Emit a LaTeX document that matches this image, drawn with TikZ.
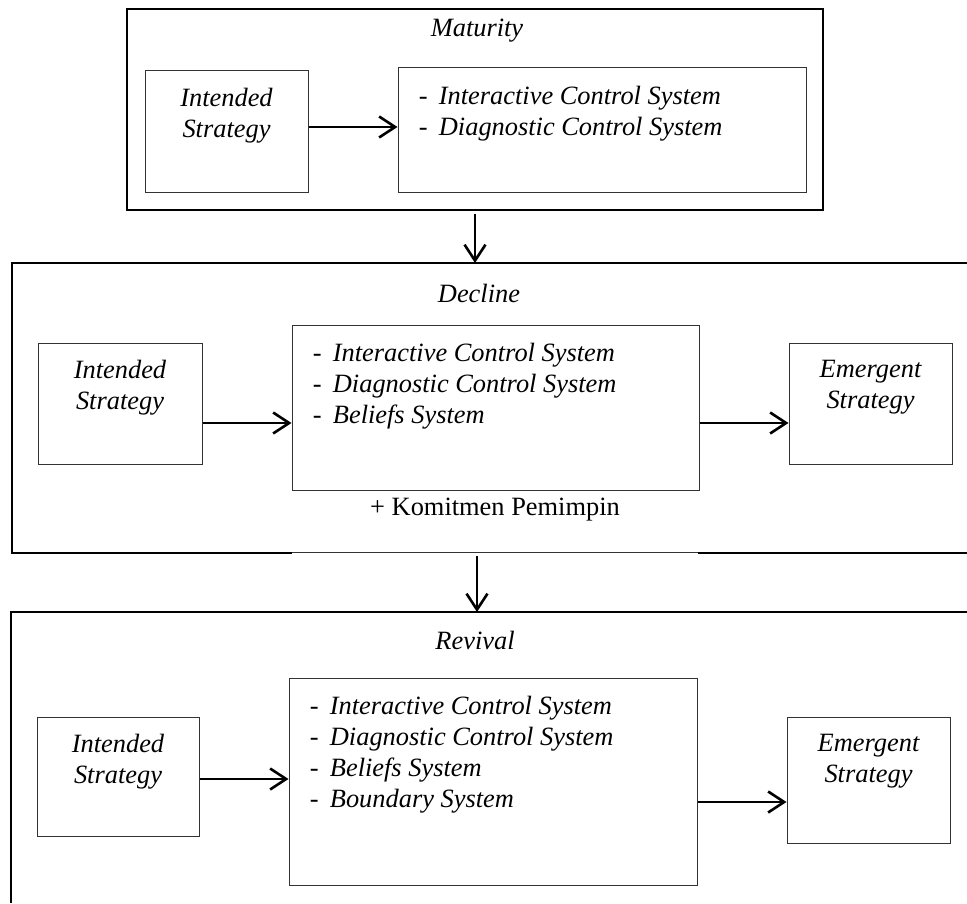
\documentclass[tikz,border=0pt]{standalone}
\usepackage{fontspec}
\setmainfont{Liberation Serif}
\usetikzlibrary{arrows.meta,positioning}
\tikzset{
  frame/.style={draw, line width=1pt},
  box/.style={draw=black!80, line width=0.5pt, inner sep=0pt},
  arr/.style={-{Straight Barb[length=8pt,width=10.5pt]}, line width=1.3pt},
  hd/.style={font=\fontsize{13.2}{15.5}\selectfont\itshape, inner sep=0pt},
  txt/.style={font=\fontsize{13.2}{15.5}\selectfont, inner sep=0pt},
  ctr/.style={anchor=north, align=center, inner sep=0pt, yshift=-8.5pt, font=\fontsize{13.2}{15.5}\selectfont\itshape},
  lst/.style={anchor=north west, align=left, inner sep=0pt, xshift=10.5pt, yshift=-9pt, font=\fontsize{13.2}{15.5}\selectfont}
}
\newcommand{\itm}[1]{\makebox[10pt][l]{-}\textit{#1}}

\begin{document}
\begin{tikzpicture}[x=0.5pt,y=-0.5pt]
  \useasboundingbox (0,0) rectangle (967,903);
  % Maturity
  \node[frame, minimum width=348pt, minimum height=100.5pt, inner sep=0pt] (mat) at (475,109.5) {};
  \node[hd] (matT) at (477,31) {Maturity};
  \node[box, minimum width=81.5pt, minimum height=61pt, label={[ctr]north:{Intended\\Strategy}}] (is1) at (226.5,132) {};
  \node[box, minimum width=204pt, minimum height=62.5pt, label={[lst]north west:{\itm{Interactive Control System}\\\itm{Diagnostic Control System}}}] (ctl1) at (602,130.5) {};
  \draw[arr] (is1.east |- 0,127) -- (ctl1.west |- 0,127);
  % Decline
  \draw[frame] (967,263) -- (12,263) -- (12,553) -- (292,553);
  \draw[frame] (698,553) -- (967,553);
  \draw[box] (292,552) -- (698,552);
  \coordinate (decN) at (475,263);
  \coordinate (decS) at (477,553);
  \node[hd] (decT) at (479,293) {Decline};
  \node[box, minimum width=82pt, minimum height=60.5pt, label={[ctr]north:{Intended\\Strategy}}] (is2) at (120,403.5) {};
  \node[box, minimum width=203.5pt, minimum height=82.5pt, label={[lst]north west:{\itm{Interactive Control System}\\\itm{Diagnostic Control System}\\\itm{Beliefs System}}}] (ctl2) at (495.5,407.5) {};
  \node[box, minimum width=81.5pt, minimum height=60.5pt, label={[ctr]north:{Emergent\\Strategy}}] (em2) at (870.5,403.5) {};
  \node[txt] (kom) at (495,510) {+ Komitmen Pemimpin};
  \draw[arr] (is2.east |- 0,423) -- (ctl2.west |- 0,423);
  \draw[arr] (ctl2.east |- 0,423) -- (em2.west |- 0,423);
  \draw[arr, shorten <=1.5pt] (mat.south) -- (decN);
  % Revival
  \draw[frame] (967,612) -- (11,612) -- (11,903);
  \coordinate (revN) at (477,612);
  \node[hd] (revT) at (475,640) {Revival};
  \node[box, minimum width=81pt, minimum height=59.5pt, label={[ctr]north:{Intended\\Strategy}}] (is3) at (118,776.5) {};
  \node[box, minimum width=204pt, minimum height=103.5pt, label={[lst]north west:{\itm{Interactive Control System}\\\itm{Diagnostic Control System}\\\itm{Beliefs System}\\\itm{Boundary System}}}] (ctl3) at (493,781.5) {};
  \node[box, minimum width=81.5pt, minimum height=63pt, label={[ctr]north:{Emergent\\Strategy}}] (em3) at (868.5,780) {};
  \draw[arr] (is3.east |- 0,779) -- (ctl3.west |- 0,779);
  \draw[arr] (ctl3.east |- 0,802) -- (em3.west |- 0,802);
  \draw[arr, shorten <=1.5pt] (decS) -- (revN);
\end{tikzpicture}
\end{document}
